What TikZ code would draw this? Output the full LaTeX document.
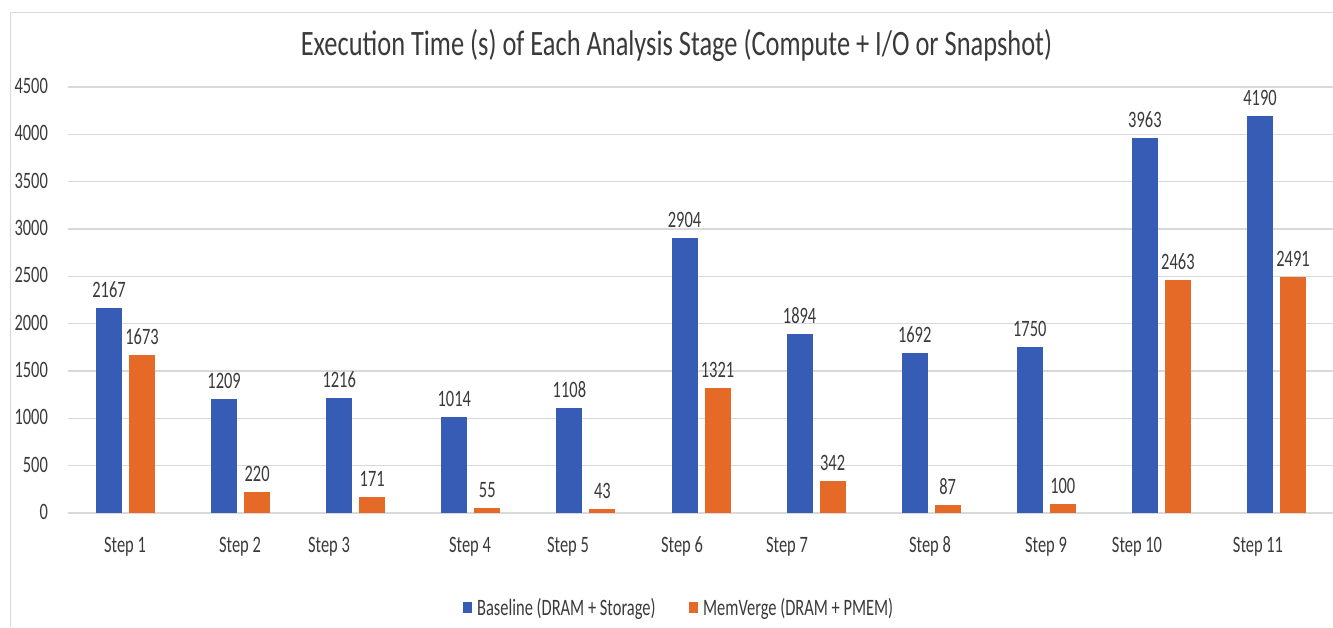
\documentclass[tikz,border=0pt]{standalone}
\usepackage{fontspec}
\setmainfont{Carlito}
\definecolor{barblue}{HTML}{375CB6}
\definecolor{barorange}{HTML}{E66A27}
\definecolor{txtgray}{HTML}{3A3A3A}
\definecolor{gridgray}{HTML}{D9D9D9}
\begin{document}
\begin{tikzpicture}[x=1pt,y=-1pt,
  lbl/.style={font=\fontsize{23.5}{24}\selectfont, text=txtgray, inner sep=0pt, xscale=0.70},
  titlelbl/.style={font=\fontsize{35.7}{36}\selectfont, text=txtgray, inner sep=0pt, xscale=0.74},
  gridline/.style={draw=gridgray, line width=1.3pt},
  frameline/.style={draw=gridgray, line width=1pt}]
\useasboundingbox (0,0) rectangle (1333,627);
\fill[white] (0,0) rectangle (1333,627);
\draw[frameline] (10,627) -- (10,12) -- (1333,12);
% title
\node[titlelbl, anchor=base] (title) at (676.5,55) {Execution Time (s) of Each Analysis Stage (Compute + I/O or Snapshot)};
% gridlines and y labels
\foreach \v in {0,...,9}{
  \pgfmathsetmacro\yy{513-47.333*\v}
  \pgfmathtruncatemacro\lab{\v*500}
  \draw[gridline] (68,\yy) -- (1333,\yy);
  \node[lbl, anchor=base east] (ylab\v) at (48,\yy+6.5) {\lab};
}
% bars
\foreach \b/\m [count=\i] in {2167/1673,1209/220,1216/171,1014/55,1108/43,2904/1321,1894/342,1692/87,1750/100,3963/2463,4190/2491}{
  \pgfmathsetmacro\c{125.5+115.1*(\i-1)}
  \pgfmathsetmacro\yb{513-\b*0.0946667}
  \pgfmathsetmacro\ym{513-\m*0.0946667}
  \fill[barblue] (\c-29.5,513) rectangle (\c-3.5,\yb);
  \fill[barorange] (\c+3.5,513) rectangle (\c+29.5,\ym);
  \node[lbl, anchor=base] (vb\i) at (\c-16.5,\yb-10.5) {\b};
  \node[lbl, anchor=base] (vm\i) at (\c+16.5,\ym-10.5) {\m};
}
% category labels
\foreach \x [count=\i] in {125,240,329,470,568,682,787,930,1046,1137,1258}{
  \node[lbl, anchor=base] (step\i) at (\x,552) {Step \i};
}
% legend
\fill[barblue] (463,602) rectangle (472,613);
\node[lbl, anchor=base west] (legb) at (477,615) {Baseline (DRAM + Storage)};
\fill[barorange] (689,602) rectangle (698,613);
\node[lbl, anchor=base west] (legm) at (703,615) {MemVerge (DRAM + PMEM)};
\end{tikzpicture}
\end{document}
